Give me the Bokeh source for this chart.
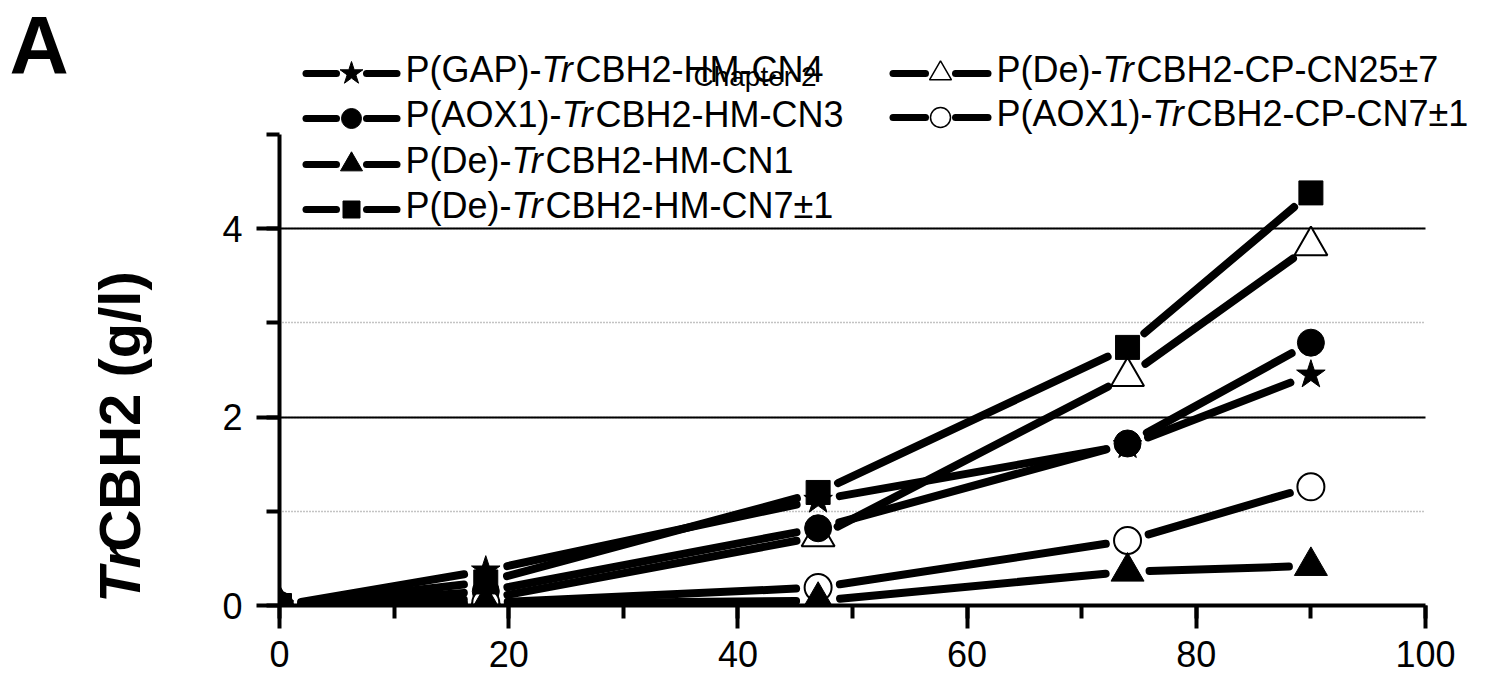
import math
from bokeh.plotting import figure
from bokeh.layouts import row
from bokeh.models import Label, SingleIntervalTicker, Range1d
from bokeh.embed import file_html
from bokeh.resources import INLINE

# ---------------- data ----------------
time_h = [0, 18, 47, 74, 90]
gap_hm_cn4 = [0, 0.37, 1.12, 1.70, 2.45]
aox1_hm_cn3 = [0, 0.15, 0.82, 1.72, 2.79]
de_hm_cn1 = [0, 0.02, 0.05, 0.36, 0.42]
de_hm_cn7 = [0, 0.25, 1.20, 2.74, 4.38]
de_cp_cn25 = [0, 0.07, 0.73, 2.43, 3.82]
aox1_cp_cn7 = [0, 0.03, 0.19, 0.69, 1.26]

legend_prefix = ["P(GAP)-", "P(AOX1)-", "P(De)-", "P(De)-", "P(De)-", "P(AOX1)-"]
legend_italic = ["Tr", "Tr", "Tr", "Tr", "Tr", "Tr"]
legend_suffix = ["CBH2-HM-CN4", "CBH2-HM-CN3", "CBH2-HM-CN1", "CBH2-HM-CN7±1",
                 "CBH2-CP-CN25±7", "CBH2-CP-CN7±1"]
y_label_italic = "Tr"
y_label_rest = "CBH2 (g/l)"
panel_letter = "A"
overlay_note = "Chapter 2"
grid_major_y = [2, 4]
grid_minor_y = [1, 3]

series_values = [gap_hm_cn4, aox1_hm_cn3, de_hm_cn1, de_hm_cn7, de_cp_cn25, aox1_cp_cn7]

# ---------------- styles / layout ----------------
W, H = 1490, 685
FL, FR100, FB, FT = 279, 1425, 605, 0      # page px: x=0, x=100, y=0, frame top
AXIS_PANEL = 90                             # width of y-axis panel of main figure
LEFT_W = FL - AXIS_PANEL                    # width of left text-only figure
MAIN_W = W - LEFT_W
PX_PER_Y = (605 - 134) / 5.0
Y1 = (FB - FT) / PX_PER_Y
SX = (FR100 - FL) / 100.0
XEND = (W - FL) / SX

def dx(px):
    return (px - FL) / SX

def dy(py):
    return (FB - py) / PX_PER_Y

# marker, fill, size, legend size
styles = [
    ("star", "black", 30, 24),
    ("circle", "black", 27, 20),
    ("triangle", "black", 33, 22),
    ("square", "black", 24, 17),
    ("triangle", "white", 33, 22),
    ("circle", "white", 27, 20),
]
draw_order = [0, 4, 1, 5, 2, 3]

FONT = "Liberation Sans"
MID = 0.30   # offset of "middle" baseline above alphabetic baseline, in em

W_REG = {'P': 667, '(': 333, 'G': 778, 'A': 667, ')': 333, '-': 333, 'O': 778, 'X': 667,
         '1': 556, 'D': 722, 'e': 556, 'T': 611, 'r': 333, 'C': 722, 'B': 667, 'H': 722,
         '2': 556, 'M': 833, 'N': 722, '3': 556, '4': 556, '5': 556, '7': 556, '±': 584, ' ': 278}
W_BOLD = {'T': 611, 'r': 389, 'C': 722, 'B': 722, 'H': 722, '2': 556, ' ': 278, '(': 333,
          'g': 611, '/': 278, 'l': 278, ')': 333}

def text_w(s, fs, table):
    return sum(table.get(c, 556) for c in s) * fs / 1000.0

# ---------------- main figure ----------------
p = figure(width=MAIN_W, height=H, output_backend="svg", toolbar_location=None,
           x_range=Range1d(0, XEND), y_range=Range1d(0, Y1), title=None)
p.min_border_left = AXIS_PANEL
p.min_border_right = 0
p.min_border_top = FT
p.min_border_bottom = H - FB
p.outline_line_color = None
p.background_fill_color = "white"
p.border_fill_color = "white"

p.xaxis.ticker = SingleIntervalTicker(interval=20, num_minor_ticks=2)
p.yaxis.ticker = SingleIntervalTicker(interval=2, num_minor_ticks=2)
p.xaxis.bounds = (0, 100)
p.yaxis.bounds = (0, 5)
for ax in (p.xaxis[0], p.yaxis[0]):
    ax.axis_line_width = 4
    ax.axis_line_color = "black"
    ax.major_tick_line_width = 4
    ax.minor_tick_line_width = 4
    ax.major_tick_line_color = "black"
    ax.minor_tick_line_color = "black"
    ax.major_tick_out = 23
    ax.major_tick_in = 0
    ax.minor_tick_out = 13
    ax.minor_tick_in = 0
    ax.major_label_text_font = FONT
    ax.major_label_text_font_size = "36px"
    ax.major_label_text_color = "black"
    ax.major_label_standoff = 12
p.yaxis.major_label_standoff = 14

p.xgrid.visible = False
yg = p.ygrid[0]
if "cross_bounds" in yg.properties():
    yg.bounds = (0, 4.5)
    yg.cross_bounds = (0, 100)
    yg.grid_line_color = "black"
    yg.grid_line_width = 2
    yg.minor_grid_line_color = "#888888"
    yg.minor_grid_line_width = 1.5
    yg.minor_grid_line_dash = "1 2"
else:
    yg.visible = False
    p.segment(x0=[0] * len(grid_major_y), x1=[100] * len(grid_major_y),
              y0=grid_major_y, y1=grid_major_y, line_color="black", line_width=2)
    p.segment(x0=[0] * len(grid_minor_y), x1=[100] * len(grid_minor_y),
              y0=grid_minor_y, y1=grid_minor_y, line_color="#888888", line_width=1.5,
              line_dash="1 2")

GAP = 22.0

def trimmed(xs, ys, gap):
    mx, my = [], []
    for i in range(len(xs) - 1):
        ax_, ay_, bx_, by_ = xs[i], ys[i], xs[i + 1], ys[i + 1]
        L = math.hypot((bx_ - ax_) * SX, (by_ - ay_) * PX_PER_Y)
        if L <= 2 * gap:
            continue
        f = gap / L
        mx.append([ax_ + (bx_ - ax_) * f, bx_ - (bx_ - ax_) * f])
        my.append([ay_ + (by_ - ay_) * f, by_ - (by_ - ay_) * f])
    return mx, my

for vals in series_values:
    mx, my = trimmed(time_h, vals, GAP)
    p.multi_line(xs=mx, ys=my, line_width=8, line_color="black", line_cap="round")

for i in draw_order:
    mk, fill, size, _ = styles[i]
    p.scatter(time_h, series_values[i], marker=mk, size=size, fill_color=fill,
              line_color="black", line_width=2 if fill == "white" else 1)

# ---------------- legend ----------------
LEG_FS = 36
rows_y = [73, 118, 164, 209, 73, 117]
col_line = [(302, 400, 351), (889, 991, 940)]
for i in range(6):
    col = 0 if i < 4 else 1
    x_start, x_end, xc = col_line[col]
    ry = rows_y[i]
    p.multi_line(xs=[[dx(x_start + 3.5), dx(xc - 15)], [dx(xc + 15), dx(x_end - 3.5)]],
                 ys=[[dy(ry), dy(ry)], [dy(ry), dy(ry)]],
                 line_width=7, line_color="black", line_cap="round")
    mk, fill, _, lsize = styles[i]
    p.scatter([dx(xc)], [dy(ry)], marker=mk, size=lsize, fill_color=fill,
              line_color="black", line_width=1.5 if fill == "white" else 1)
    tx = x_end + 5
    base = ry + 7
    parts = [(legend_prefix[i], "normal"), (legend_italic[i], "italic"), (legend_suffix[i], "normal")]
    for txt, style in parts:
        p.add_layout(Label(x=dx(tx), y=dy(base - MID * LEG_FS), text=txt, text_font=FONT,
                           text_font_size=f"{LEG_FS}px", text_font_style=style,
                           text_color="black", text_align="left", text_baseline="middle"))
        tx += text_w(txt, LEG_FS, W_REG)

NOTE_FS = 28
p.add_layout(Label(x=dx(693), y=dy(84 - MID * NOTE_FS), text=overlay_note, text_font=FONT,
                   text_font_size=f"{NOTE_FS}px", text_color="black", text_align="left",
                   text_baseline="middle"))

# ---------------- left text figure ----------------
lf = figure(width=LEFT_W, height=H, output_backend="svg", toolbar_location=None,
            x_range=Range1d(0, LEFT_W), y_range=Range1d(0, H), title=None,
            x_axis_type=None, y_axis_type=None)
lf.min_border = 0
lf.min_border_left = 0
lf.min_border_right = 0
lf.min_border_top = 0
lf.min_border_bottom = 0
lf.outline_line_color = None
lf.xgrid.visible = False
lf.ygrid.visible = False
lf.background_fill_color = "white"
lf.border_fill_color = "white"

A_FS = 82
lf.add_layout(Label(x=9, y=H - (74 - MID * A_FS), text=panel_letter, text_font=FONT,
                    text_font_size=f"{A_FS}px", text_font_style="bold", text_color="black",
                    text_align="left", text_baseline="middle"))

# rotated y-axis title (two styled runs); anchor corrected for how rotated labels are placed
YL_FS = 58
y_anchor = 682
x_anchor = 119
lf.add_layout(Label(x=x_anchor, y=H - y_anchor, text=y_label_italic, text_font=FONT,
                    text_font_size=f"{YL_FS}px", text_font_style="bold italic",
                    text_color="black", text_align="left", text_baseline="middle",
                    angle=math.pi / 2))
lf.add_layout(Label(x=x_anchor,
                    y=H - (y_anchor - text_w(y_label_italic, YL_FS, W_BOLD)),
                    text=y_label_rest, text_font=FONT,
                    text_font_size=f"{YL_FS}px", text_font_style="bold",
                    text_color="black", text_align="left", text_baseline="middle",
                    angle=math.pi / 2))

layout = row(lf, p, spacing=0)
open("out.html", "w").write(file_html(layout, INLINE))
